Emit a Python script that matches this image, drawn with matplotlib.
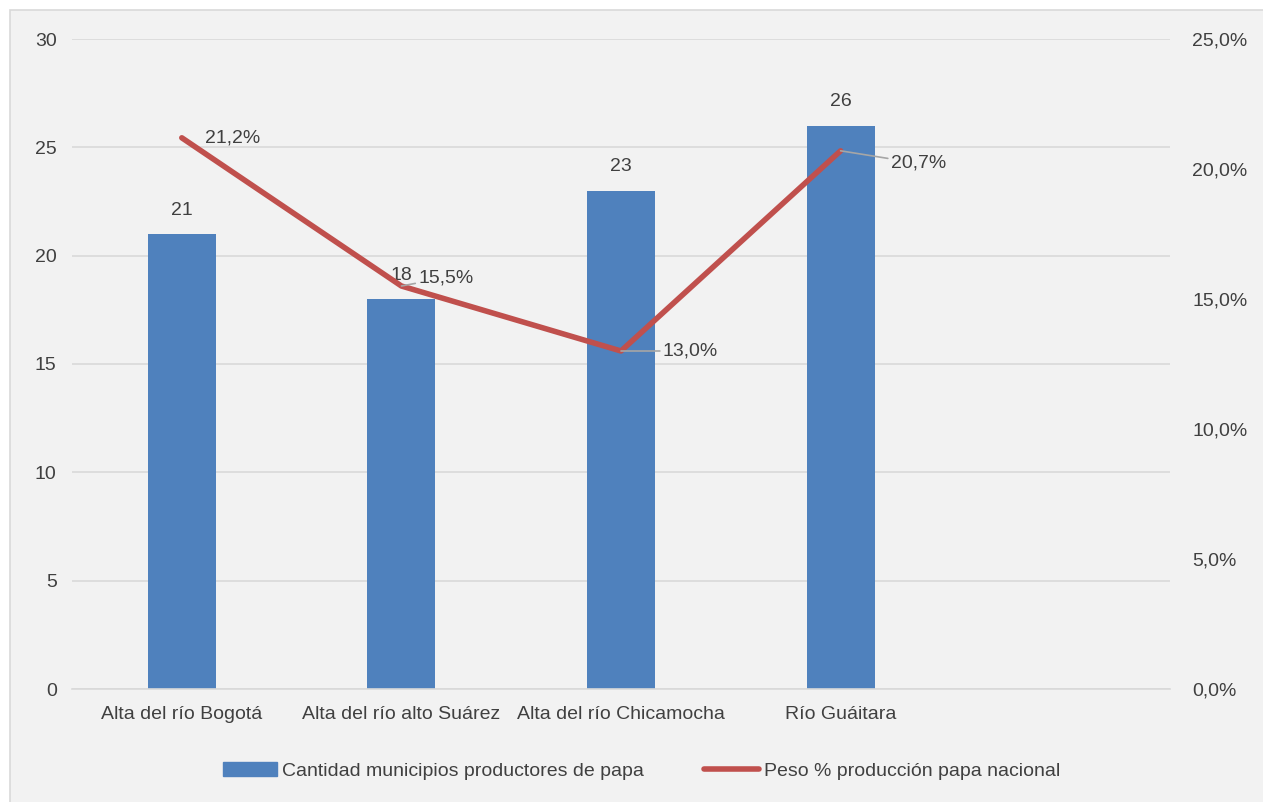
import matplotlib.pyplot as plt
import matplotlib.patches as mpatches
from matplotlib.lines import Line2D
from matplotlib.ticker import FuncFormatter
from matplotlib import font_manager

names = {f.name for f in font_manager.fontManager.ttflist}
fam = ["Liberation Sans Narrow", "Liberation Sans", "DejaVu Sans"]
plt.rcParams["font.family"] = [f for f in fam if f in names] or ["DejaVu Sans"]

# datos
cuencas = ["Alta del río Bogotá", "Alta del río alto Suárez", "Alta del río Chicamocha", "Río Guáitara", ""]
municipios = [21, 18, 23, 26]
peso = [0.212, 0.155, 0.130, 0.207]

bar_color = "#4F81BD"
line_color = "#C0504D"
txt = "#404040"
bg = "#F2F2F2"

fig = plt.figure(figsize=(12.63, 8.02), dpi=100)
fig.patch.set_facecolor("white")
fig.add_artist(mpatches.Rectangle((10 / 1263, -0.01), 1.02, 1 - 10 / 802 + 0.01,
                                  transform=fig.transFigure, facecolor=bg,
                                  edgecolor="#D9D9D9", linewidth=1.2, zorder=-10))

ax = fig.add_axes([72 / 1263, (802 - 689) / 802, (1170 - 72) / 1263, 650 / 802])
ax.set_facecolor("none")
x = list(range(len(municipios)))
bars = ax.bar(x, municipios, width=0.31, color=bar_color, zorder=2)
ax.set_xlim(-0.5, len(cuencas) - 0.5)
ax.set_ylim(0, 30)
ax.set_yticks(range(0, 31, 5))
ax.set_xticks(range(len(cuencas)))
ax.set_xticklabels(cuencas)
ax.grid(axis="y", color="#D9D9D9", linewidth=1.2, zorder=0)
for s in ["top", "right", "left"]:
    ax.spines[s].set_visible(False)
ax.spines["bottom"].set_color("#D9D9D9")
ax.spines["bottom"].set_linewidth(1.2)
ax.tick_params(length=0, labelsize=14, colors=txt, pad=12)
ax.tick_params(axis="y", pad=11)

for xi, v in zip(x, municipios):
    ax.annotate(str(v), (xi, v), xytext=(0, 11), textcoords="offset points",
                ha="center", va="bottom", fontsize=14, color=txt)

ax2 = ax.twinx()
ax2.set_ylim(0, 0.25)
ax2.set_yticks([i * 0.05 for i in range(6)])
ax2.yaxis.set_major_formatter(FuncFormatter(lambda v, p: f"{v * 100:.1f}%".replace(".", ",")))
for s in ax2.spines.values():
    s.set_visible(False)
ax2.tick_params(length=0, labelsize=14, colors=txt, pad=16)
ax2.plot(x, peso, color=line_color, linewidth=4, solid_capstyle="round", zorder=3)

# etiquetas del porcentaje con líneas guía
offs = [(17, 0), (12, 6), (30, 0), (36, -9)]
for xi, v, (dx, dy) in zip(x, peso, offs):
    lab = f"{v * 100:.1f}%".replace(".", ",")
    ax2.annotate(lab, (xi, v), xytext=(dx, dy), textcoords="offset points",
                 ha="left", va="center", fontsize=14, color=txt,
                 arrowprops=dict(arrowstyle="-", color="#A6A6A6", lw=1.2,
                                 shrinkA=0, shrinkB=0) if xi > 0 else None)

handles = [mpatches.Patch(color=bar_color),
           Line2D([], [], color=line_color, linewidth=4, solid_capstyle="round")]
fig.legend(handles, ["Cantidad municipios productores de papa", "Peso % producción papa nacional"],
           loc="center", bbox_to_anchor=(0.5 + 10 / 1263, (802 - 771) / 802), ncol=2, frameon=False,
           fontsize=14, labelcolor=txt, handlelength=2.8, handleheight=0.7,
           handletextpad=0.25, columnspacing=3.1)

fig.savefig("out.png", dpi=100)
